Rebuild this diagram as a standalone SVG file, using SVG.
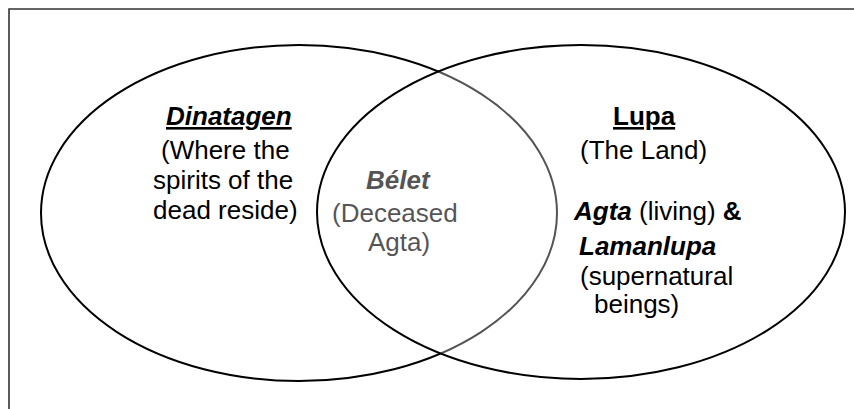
<svg xmlns="http://www.w3.org/2000/svg" width="854" height="409" viewBox="0 0 854 409">
<style>
text{font-family:"Liberation Sans",Arial,sans-serif;font-size:26px;fill:#000}
.b{font-weight:bold}
.bi{font-weight:bold;font-style:italic}
.u{text-decoration:underline}
.ell{stroke:#000;stroke-width:2}
</style>
<rect width="854" height="409" fill="#fff"/>
<path d="M9,409 V9 H854" fill="none" stroke="#333" stroke-width="1.6"/>
<g id="dinatagen">
<ellipse class="ell" cx="299" cy="213" rx="258" ry="168" fill="#fff"/>
<text x="166" y="125" class="bi u">Dinatagen</text>
<text x="161" y="159">(Where the</text>
<text x="153" y="189">spirits of the</text>
<text x="153" y="219">dead reside)</text>
</g>
<g id="belet">
<text x="366" y="189" class="bi">Bélet</text>
<text x="332" y="221.5">(Deceased</text>
<text x="368" y="250.5">Agta)</text>
</g>
<g id="lupa">
<ellipse class="ell" cx="581" cy="212" rx="264" ry="167" fill="#fff" fill-opacity="0.33"/>
<text x="613" y="125" class="b u">Lupa</text>
<text x="580" y="158.5">(The Land)</text>
<text x="574" y="220"><tspan class="bi">Agta</tspan> (living) <tspan class="b">&amp;</tspan></text>
<text x="579" y="255" class="bi">Lamanlupa</text>
<text x="580" y="284.5">(supernatural</text>
<text x="594" y="313">beings)</text>
</g>
<g id="connectors"/>
</svg>
